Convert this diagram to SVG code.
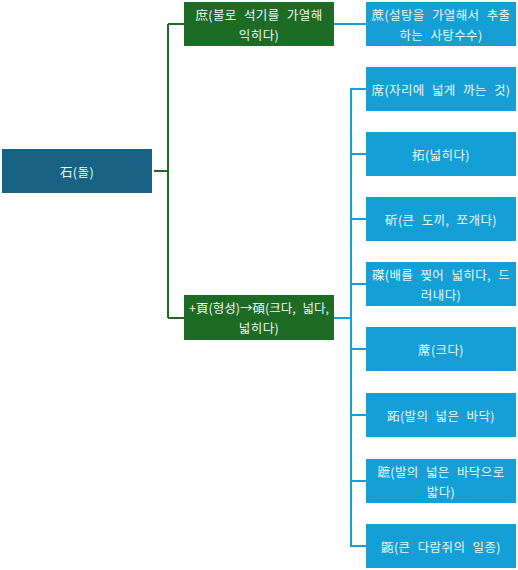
<svg xmlns="http://www.w3.org/2000/svg" width="518" height="570" viewBox="0 0 518 570">
<style>
  .root { fill: #186283; }
  .green { fill: #1d6b24; }
  .blue { fill: #149fd6; }
  text { font-family: "Noto Sans CJK KR", "Noto Sans", sans-serif; font-size: 12.5px; fill: #eef7fa; text-anchor: middle; dominant-baseline: central; word-spacing: 4px; letter-spacing: 0.4px; }
  .gline { stroke: #1d6b24; stroke-width: 2; fill: none; }
  .bline { stroke: #149fd6; stroke-width: 2; fill: none; }
</style>
<rect width="518" height="570" fill="#ffffff"/>
<g id="connectors">
  <path class="gline" d="M154 171 H168 M168 24 V318 M168 24 H184 M168 318 H184"/>
  <path class="bline" d="M334 24 H366"/>
  <path class="bline" d="M334 318 H351 M351 89 V546 M350 89 H366 M350 154 H366 M350 219 H366 M350 284 H366 M350 349 H366 M350 415 H366 M350 481 H366 M350 546 H366"/>
</g>
<g id="n-root"><rect class="root" x="2" y="149" width="150" height="44"/><text x="77" y="171">石(돌)</text></g>
<g id="n-g1"><rect class="green" x="184" y="2" width="150" height="44"/><text x="259" y="14">庶(불로 석기를 가열해</text><text x="259" y="34">익히다)</text></g>
<g id="n-g2"><rect class="green" x="184" y="295" width="150" height="45"/><text x="259" y="307" style="letter-spacing:0">+頁(형성)→碩(크다, 넓다,</text><text x="259" y="327">넓히다)</text></g>
<g id="n-b1"><rect class="blue" x="366" y="2" width="150" height="44"/><text x="441" y="14">蔗(설탕을 가열해서 추출</text><text x="441" y="34">하는 사탕수수)</text></g>
<g id="n-b2"><rect class="blue" x="366" y="67" width="150" height="44"/><text x="441" y="89">席(자리에 넓게 까는 것)</text></g>
<g id="n-b3"><rect class="blue" x="366" y="132" width="150" height="44"/><text x="441" y="154">拓(넓히다)</text></g>
<g id="n-b4"><rect class="blue" x="366" y="197" width="150" height="44"/><text x="441" y="219">斫(큰 도끼, 쪼개다)</text></g>
<g id="n-b5"><rect class="blue" x="366" y="262" width="150" height="44"/><text x="441" y="274">磔(배를 찢어 넓히다, 드</text><text x="441" y="294">러내다)</text></g>
<g id="n-b6"><rect class="blue" x="366" y="327" width="150" height="44"/><text x="441" y="349">蓆(크다)</text></g>
<g id="n-b7"><rect class="blue" x="366" y="393" width="150" height="44"/><text x="441" y="415">跖(발의 넓은 바닥)</text></g>
<g id="n-b8"><rect class="blue" x="366" y="459" width="150" height="44"/><text x="441" y="471">蹠(발의 넓은 바닥으로</text><text x="441" y="491">밟다)</text></g>
<g id="n-b9"><rect class="blue" x="366" y="524" width="150" height="44"/><text x="441" y="546">鼫(큰 다람쥐의 일종)</text></g>
</svg>
